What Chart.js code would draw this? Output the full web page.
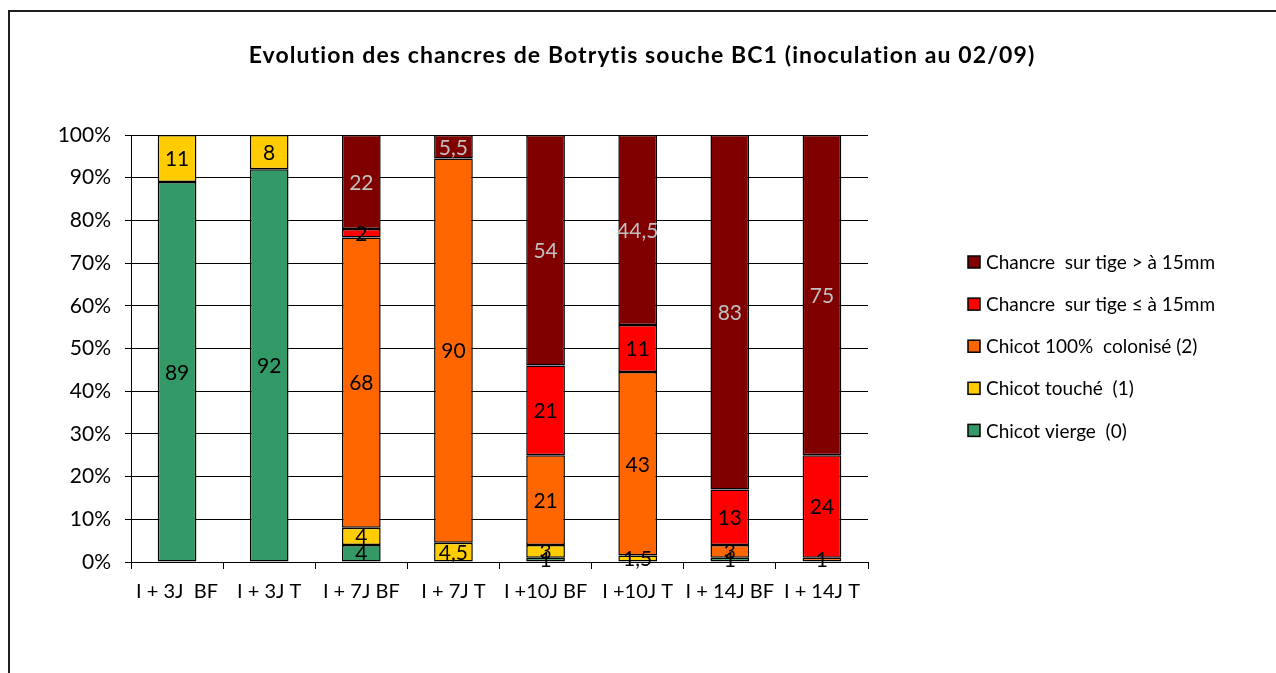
<!DOCTYPE html>
<html>
<head>
<meta charset="utf-8">
<script src="https://cdn.jsdelivr.net/npm/chart.js@4/dist/chart.umd.min.js"></script>
<style>
  body { margin: 0; background: #fff; overflow: hidden; }
  #frame { position: absolute; left: 8px; top: 10px; width: 1400px; height: 800px; border: 2px solid #1e1e1e; }
  #chart { position: absolute; left: 0; top: 0; }
</style>
</head>
<body>
<div id="frame"></div>
<canvas id="chart" width="1276" height="673"></canvas>
<script>
const labels = ['I + 3J  BF', 'I + 3J T', 'I + 7J BF', 'I + 7J T', 'I +10J BF', 'I +10J T', 'I + 14J BF', 'I + 14J T'];

const vierge = [89, 92, 4, 0, 1, 0, 1, 0];
const touche = [11, 8, 4, 4.5, 3, 1.5, 0, 0];
const colonise = [0, 0, 68, 90, 21, 43, 3, 1];
const chancreInf = [0, 0, 2, 0, 21, 11, 13, 24];
const chancreSup = [0, 0, 22, 5.5, 54, 44.5, 83, 75];

const titleText = 'Evolution des chancres de Botrytis souche BC1 (inoculation au 02/09)';
const font = 'Lato';

// etiquettes de valeurs au centre de chaque segment
const valueLabels = {
  id: 'valueLabels',
  afterDatasetsDraw(chart) {
    const ctx = chart.ctx;
    ctx.save();
    ctx.font = '21px ' + font;
    ctx.textAlign = 'center';
    ctx.textBaseline = 'middle';
    chart.data.datasets.forEach((ds, i) => {
      const meta = chart.getDatasetMeta(i);
      meta.data.forEach((bar, j) => {
        const v = ds.data[j];
        if (!v) return;
        ctx.fillStyle = ds.labelColor;
        ctx.fillText(String(v).replace('.', ','), bar.x, (bar.y + bar.base) / 2 + 1);
      });
    });
    ctx.restore();
  }
};

// titre + legende a droite (ordre inverse)
const sideLegend = {
  id: 'sideLegend',
  afterDraw(chart) {
    const ctx = chart.ctx;
    ctx.save();
    ctx.fillStyle = '#000';
    ctx.font = 'bold 23px ' + font;
    ctx.letterSpacing = '1.1px';
    ctx.textAlign = 'center';
    ctx.textBaseline = 'middle';
    ctx.fillText(titleText, 642, 56);

    ctx.letterSpacing = '0px';
    ctx.textAlign = 'left';
    ctx.font = '19px ' + font;
    const items = chart.data.datasets.slice().reverse();
    items.forEach((ds, i) => {
      const y = 262 + i * 42.1;
      ctx.fillStyle = ds.backgroundColor;
      ctx.fillRect(968, y - 6, 12, 12);
      ctx.strokeStyle = '#000';
      ctx.lineWidth = 1.5;
      ctx.strokeRect(968, y - 6, 12, 12);
      ctx.fillStyle = '#000';
      ctx.fillText(ds.label, 986, y + 1);
    });
    ctx.restore();
  }
};

new Chart(document.getElementById('chart'), {
  type: 'bar',
  data: {
    labels: labels,
    datasets: [
      { label: 'Chicot vierge  (0)', data: vierge, backgroundColor: '#339966', labelColor: '#000' },
      { label: 'Chicot touché  (1)', data: touche, backgroundColor: '#ffcc00', labelColor: '#000' },
      { label: 'Chicot 100%  colonisé (2)', data: colonise, backgroundColor: '#ff6600', labelColor: '#000' },
      { label: 'Chancre  sur tige ≤ à 15mm', data: chancreInf, backgroundColor: '#ff0000', labelColor: '#000' },
      { label: 'Chancre  sur tige > à 15mm', data: chancreSup, backgroundColor: '#800000', labelColor: '#c0c0c0' },
    ].map(ds => Object.assign(ds, {
      // les segments a 0 ne sont pas dessines
      data: ds.data.map(v => (v === 0 ? null : v)),
      borderColor: '#000',
      borderWidth: 1.5,
      borderSkipped: false,
      categoryPercentage: 1,
      barPercentage: 0.42,
    })),
  },
  options: {
    responsive: false,
    animation: false,
    devicePixelRatio: 1,
    layout: {
      padding: { left: 0, right: 408, top: 135, bottom: 61 },
    },
    scales: {
      x: {
        stacked: true,
        grid: {
          offset: true,
          drawOnChartArea: false,
          drawTicks: true,
          tickLength: 7,
          color: '#000',
        },
        border: { color: '#000', width: 1 },
        ticks: {
          color: '#000',
          padding: 11,
          maxRotation: 0,
          font: { family: font, size: 20 },
        },
        afterFit(scale) {
          scale.height = 50;
        },
      },
      y: {
        stacked: true,
        min: 0,
        max: 100,
        grid: {
          color: '#000',
          tickLength: 6,
        },
        border: { color: '#000', width: 1 },
        ticks: {
          stepSize: 10,
          color: '#000',
          padding: 14,
          font: { family: font, size: 21 },
          callback: v => v + '%',
        },
        afterFit(scale) {
          scale.width = 131;
        },
      },
    },
    plugins: {
      legend: { display: false },
      tooltip: { enabled: false },
      title: { display: false },
    },
  },
  plugins: [valueLabels, sideLegend],
});
</script>
</body>
</html>
